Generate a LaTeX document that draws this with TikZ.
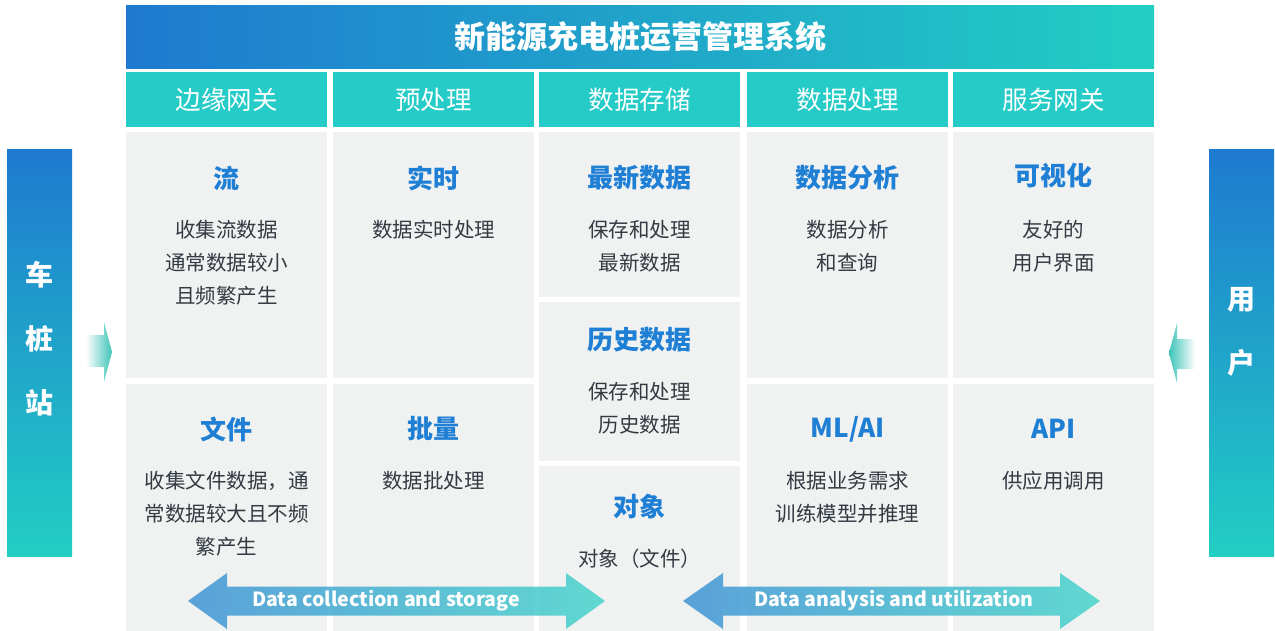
\documentclass[tikz,border=0pt]{standalone}
\usepackage{fontspec}
\setmainfont{Noto Sans CJK SC}
\usetikzlibrary{positioning,calc}

\definecolor{barblue}{RGB}{30,122,208}
\definecolor{barteal}{RGB}{34,206,196}
\definecolor{headteal}{RGB}{36,203,199}
\definecolor{cellgray}{RGB}{240,242,242}
\definecolor{headblue}{RGB}{31,127,212}
\definecolor{bodygray}{RGB}{51,58,66}
\definecolor{flowblue}{RGB}{78,156,216}
\definecolor{flowteal}{RGB}{86,214,206}
\definecolor{tipteal}{RGB}{62,196,184}

\begin{document}
\begin{tikzpicture}[x=1pt, y=-1pt,
    titlebar/.style={anchor=north west, inner sep=0, minimum width=1028pt, minimum height=63pt, left color=barblue, right color=barteal, text=white, font=\fontsize{31}{31}\selectfont\bfseries},
    header/.style={anchor=north west, inner sep=0, minimum width=201pt, minimum height=55pt, fill=headteal, text=white, font=\fontsize{25.5}{25.5}\selectfont},
    cell/.style={anchor=north west, inner sep=0, minimum width=201pt, fill=cellgray},
    cellhead/.style={inner sep=0, text=headblue, font=\fontsize{26}{26}\selectfont\bfseries},
    cellbody/.style={anchor=north, inner sep=0, align=center, text=bodygray, font=\fontsize{20.5}{33}\selectfont},
    sidebar/.style={anchor=north west, inner sep=0, minimum width=65pt, minimum height=407pt, top color=barblue, bottom color=barteal},
    sidelabel/.style={inner sep=0, align=center, text=white, font=\fontsize{28}{64}\selectfont\bfseries},
    flowlabel/.style={inner sep=0, text=white, font=\fontsize{19.5}{19.5}\selectfont\bfseries}
]
\useasboundingbox (0,0) rectangle (1275,631);

% title and column headers
\node[titlebar] (title) at (126,5) {新能源充电桩运营管理系统};
\node[header] (edge) at (126,72) {边缘网关};
\node[header] (prep) at (333,72) {预处理};
\node[header] (store) at (539,72) {数据存储};
\node[header] (proc) at (747,72) {数据处理};
\node[header] (serve) at (953,72) {服务网关};

% cells
\node[cell, minimum height=246pt] (edgetop) at (126,132) {};
\node[cell, minimum height=247pt] (edgebot) at (126,384) {};
\node[cell, minimum height=246pt] (preptop) at (333,132) {};
\node[cell, minimum height=247pt] (prepbot) at (333,384) {};
\node[cell, minimum height=165pt] (storetop) at (539,132) {};
\node[cell, minimum height=159pt] (storemid) at (539,302) {};
\node[cell, minimum height=165pt] (storebot) at (539,466) {};
\node[cell, minimum height=246pt] (proctop) at (747,132) {};
\node[cell, minimum height=247pt] (procbot) at (747,384) {};
\node[cell, minimum height=246pt] (servetop) at (953,132) {};
\node[cell, minimum height=247pt] (servebot) at (953,384) {};

% cell texts
\node[cellhead] (stream) at ($(edgetop.north)+(0,46)$) {流};
\node[cellbody] (streamtxt) at ($(stream)+(0,42)$) {收集流数据\\通常数据较小\\且频繁产生};
\node[cellhead] (file) at ($(edgebot.north)+(0,45)$) {文件};
\node[cellbody] (filetxt) at ($(file)+(0,42)$) {收集文件数据，通\\常数据较大且不频\\繁产生};
\node[cellhead] (realtime) at ($(preptop.north)+(0,46)$) {实时};
\node[cellbody] (realtimetxt) at ($(realtime)+(0,42)$) {数据实时处理};
\node[cellhead] (batch) at ($(prepbot.north)+(0,45)$) {批量};
\node[cellbody] (batchtxt) at ($(batch)+(0,42)$) {数据批处理};
\node[cellhead] (latest) at ($(storetop.north)+(0,46)$) {最新数据};
\node[cellbody] (latesttxt) at ($(latest)+(0,42)$) {保存和处理\\最新数据};
\node[cellhead] (history) at ($(storemid.north)+(0,38)$) {历史数据};
\node[cellbody] (historytxt) at ($(history)+(0,42)$) {保存和处理\\历史数据};
\node[cellhead] (object) at ($(storebot.north)+(0,41)$) {对象};
\node[cellbody] (objecttxt) at ($(object)+(0,42)$) {对象（文件）};
\node[cellhead] (analysis) at ($(proctop.north)+(0,46)$) {数据分析};
\node[cellbody] (analysistxt) at ($(analysis)+(0,42)$) {数据分析\\和查询};
\node[cellhead] (mlai) at ($(procbot.north)+(0,45)$) {ML/AI};
\node[cellbody] (mlaitxt) at ($(mlai)+(0,42)$) {根据业务需求\\训练模型并推理};
\node[cellhead] (visual) at ($(servetop.north)+(0,44)$) {可视化};
\node[cellbody] (visualtxt) at ($(visual)+(0,44)$) {友好的\\用户界面};
\node[cellhead] (api) at ($(servebot.north)+(0,45)$) {API};
\node[cellbody] (apitxt) at ($(api)+(0,42)$) {供应用调用};

% side bars
\node[sidebar] (station) at (7,149) {};
\node[sidelabel] (stationtxt) at ($(station.center)+(0,-14)$) {车\\桩\\站};
\node[sidebar] (user) at (1209,149) {};
\node[sidelabel] (usertxt) at ($(user.center)+(0,-21)$) {用\\户};

% in / out arrows
\shade[left color=white, right color=tipteal] (86,335) -- (104,335) -- (104,322) -- (112,352) -- (104,382) -- (104,367) -- (86,367) -- cycle;
\shade[left color=tipteal, right color=white] (1195,339) -- (1177,339) -- (1177,323) -- (1169,353) -- (1177,383) -- (1177,369) -- (1195,369) -- cycle;

% bottom flows
\shade[left color=flowblue, right color=flowteal, opacity=0.93] (188,601) -- (227,573) -- (227,586.5) -- (566,586.5) -- (566,573) -- (605,601) -- (566,629) -- (566,615.5) -- (227,615.5) -- (227,629) -- cycle;
\node[flowlabel] (collect) at (386,601) {Data collection and storage};
\shade[left color=flowblue, right color=flowteal, opacity=0.93] (683,601) -- (723,573) -- (723,586.5) -- (1060,586.5) -- (1060,573) -- (1100,601) -- (1060,629) -- (1060,615.5) -- (723,615.5) -- (723,629) -- cycle;
\node[flowlabel] (analyse) at (894,601) {Data analysis and utilization};
\end{tikzpicture}
\end{document}
